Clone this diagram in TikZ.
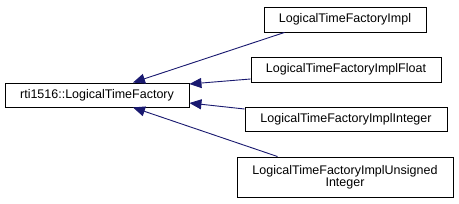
\documentclass[tikz,border=0pt]{standalone}
\usepackage{fontspec}
\setmainfont{Liberation Sans}
\usetikzlibrary{arrows.meta}
\definecolor{edgeblue}{HTML}{191970}
\begin{document}
\begin{tikzpicture}[x=1pt,y=1pt,
  cls/.style={draw=black,line width=0.9pt,fill=white,inner sep=0pt,
    font=\fontsize{12.5}{14}\selectfont,align=center},
  inh/.style={draw=edgeblue,line width=0.9pt,
    -{Triangle[length=12pt,width=10pt]},shorten >=0pt}]
\useasboundingbox (0,0) rectangle (459,204);
\fill[white] (0,0) rectangle (459,204);
\node[cls,minimum width=184pt,minimum height=24pt] (base) at (97,109) {rti1516::LogicalTimeFactory};
\node[cls,minimum width=162pt,minimum height=25pt] (b1) at (345,184.5) {LogicalTimeFactoryImpl};
\node[cls,minimum width=190pt,minimum height=25pt] (b2) at (346,134.5) {LogicalTimeFactoryImplFloat};
\node[cls,minimum width=202pt,minimum height=24pt] (b3) at (346,85) {LogicalTimeFactoryImplInteger};
\node[cls,minimum width=216pt,minimum height=40pt] (b4) at (345,27) {LogicalTimeFactoryImplUnsigned\\[-2pt]Integer};
\draw[inh] ([xshift=21pt]b1.south west) -- ([xshift=36pt]base.north);
\draw[inh] ([yshift=-9.5pt]b2.west) -- ([yshift=11pt]base.east);
\draw[inh] ([yshift=10pt]b3.west) -- ([yshift=-8pt]base.east);
\draw[inh] ([xshift=41pt]b4.north west) -- ([xshift=36pt]base.south);
\end{tikzpicture}
\end{document}
